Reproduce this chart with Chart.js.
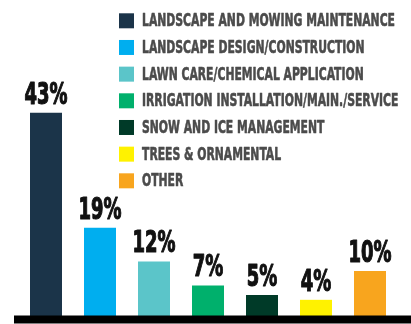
<!DOCTYPE html>
<html>
<head>
<meta charset="utf-8">
<script src="https://cdn.jsdelivr.net/npm/chart.js@4/dist/chart.umd.min.js"></script>
<style>
  html, body { margin: 0; padding: 0; background: #fff; }
  #wrap { width: 411px; height: 324px; position: relative; }
</style>
</head>
<body>
<div id="wrap"><canvas id="chart"></canvas></div>
<script>
const categories = [
  'LANDSCAPE AND MOWING MAINTENANCE',
  'LANDSCAPE DESIGN/CONSTRUCTION',
  'LAWN CARE/CHEMICAL APPLICATION',
  'IRRIGATION INSTALLATION/MAIN./SERVICE',
  'SNOW AND ICE MANAGEMENT',
  'TREES & ORNAMENTAL',
  'OTHER',
];
const shares = [43, 19, 12, 7, 5, 4, 10];
const colors = ['#1b3449', '#00aeef', '#5bc5c9', '#00b06c', '#003a28', '#fff200', '#f8a51e'];

const CONDENSED = '"Liberation Sans Narrow", "DejaVu Sans Condensed", "Liberation Sans", sans-serif';

// squeeze factor so a string lands at a given width in the current font
function squeeze(ctx, text, width) {
  return Math.min(1, width / ctx.measureText(text).width);
}

// filled text with a thin outline in the same colour, for a heavier face
function heavyText(ctx, text, x, y, weight) {
  ctx.lineWidth = weight;
  ctx.lineJoin = 'round';
  ctx.strokeStyle = ctx.fillStyle;
  ctx.strokeText(text, x, y);
  ctx.fillText(text, x, y);
}

// thick black rule along the zero line
const baseline = {
  id: 'baseline',
  afterDatasetsDraw(chart) {
    const { ctx, scales: { y } } = chart;
    const y0 = y.getPixelForValue(0);
    ctx.save();
    ctx.fillStyle = '#000';
    ctx.fillRect(14, y0 - 3.5, chart.width - 14, 8);
    ctx.restore();
  }
};

// percentage over each bar
const valueLabels = {
  id: 'valueLabels',
  afterDatasetsDraw(chart) {
    const { ctx } = chart;
    const meta = chart.getDatasetMeta(0);
    ctx.save();
    ctx.fillStyle = '#111';
    ctx.font = 'bold 31px ' + CONDENSED;
    ctx.textAlign = 'center';
    ctx.textBaseline = 'alphabetic';
    const sx = squeeze(ctx, '43%', 43);
    meta.data.forEach((bar, i) => {
      ctx.save();
      ctx.translate(bar.x, bar.y - 9);
      ctx.scale(sx, 1);
      heavyText(ctx, shares[i] + '%', 0, 0, 1.2);
      ctx.restore();
    });
    ctx.restore();
  }
};

// stacked legend in the upper right
const sideLegend = {
  id: 'sideLegend',
  afterDraw(chart) {
    const { ctx } = chart;
    const left = 119, top = 13.3, step = 26.67, box = 15;
    ctx.save();
    ctx.font = 'bold 18px ' + CONDENSED;
    ctx.textBaseline = 'middle';
    ctx.textAlign = 'left';
    const sx = squeeze(ctx, categories[0], 253);
    categories.forEach((name, i) => {
      const yy = top + i * step;
      ctx.fillStyle = colors[i];
      ctx.fillRect(left, yy, box, box);
      ctx.fillStyle = '#4b4b4b';
      ctx.save();
      ctx.translate(left + box + 8, yy + box / 2 + 1);
      ctx.scale(sx, 1);
      heavyText(ctx, name, 0, 0, 0.6);
      ctx.restore();
    });
    ctx.restore();
  }
};

new Chart(document.getElementById('chart'), {
  type: 'bar',
  data: {
    labels: categories,
    datasets: [{
      data: shares,
      backgroundColor: colors,
      borderWidth: 0,
      barPercentage: 32 / 54,
      categoryPercentage: 1,
    }],
  },
  options: {
    responsive: true,
    maintainAspectRatio: false,
    animation: false,
    layout: { padding: { left: 19, right: 14, top: 0, bottom: 5 } },
    plugins: {
      legend: { display: false },
      tooltip: { enabled: false },
    },
    scales: {
      x: { display: false },
      y: { display: false, min: 0, max: 66.5 },
    },
  },
  plugins: [baseline, valueLabels, sideLegend],
});
</script>
</body>
</html>
